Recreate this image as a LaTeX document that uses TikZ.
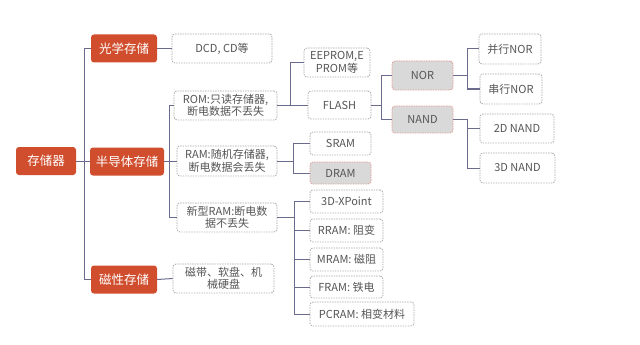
\documentclass[tikz,border=0pt]{standalone}
\usepackage{fontspec}
\setmainfont{Noto Sans CJK SC}
\definecolor{orng}{HTML}{D04E2E}
\definecolor{lnk}{HTML}{6B6B8E}
\definecolor{txt}{HTML}{555555}
\definecolor{bdr}{HTML}{A8A8A8}
\definecolor{gfill}{HTML}{D9D9D9}
\definecolor{rbdr}{HTML}{E29A92}
\begin{document}
\begin{tikzpicture}[x=1pt,y=-1pt,
  main/.style={fill=orng,text=white,rounded corners=3pt,inner sep=0pt,font=\fontsize{12.5}{14}\selectfont,minimum height=28pt},
  leaf/.style={draw=bdr,dash pattern=on 1.4pt off 1.1pt,line width=0.8pt,rounded corners=3pt,inner sep=0pt,text=txt,align=center,font=\fontsize{11}{12.5}\selectfont,fill=white},
  gleaf/.style={leaf,fill=gfill,draw=rbdr},
  con/.style={draw=lnk,line width=1pt}]
\useasboundingbox (0,0) rectangle (640,345);
% level 1
\node[main,minimum width=60pt] (root) at (46,161) {存储器};
\node[main,minimum width=66pt] (opt) at (124,48.5) {光学存储};
\node[main,minimum width=74pt] (semi) at (127,161.5) {半导体存储};
\node[main,minimum width=66pt] (mag) at (124,279.5) {磁性存储};
% level 2
\node[leaf,minimum width=100pt,minimum height=29pt] (dcd) at (222,48.5) {DCD, CD等};
\node[leaf,minimum width=103pt,minimum height=29pt] (rom) at (225.5,105.5) {ROM:只读存储器,\\断电数据不丢失};
\node[leaf,minimum width=100pt,minimum height=30pt] (ram) at (227,161) {RAM:随机存储器,\\断电数据会丢失};
\node[leaf,minimum width=100pt,minimum height=29pt] (nram) at (227,217.5) {新型RAM:断电数\\据不丢失};
\node[leaf,minimum width=101pt,minimum height=29pt] (tape) at (223.5,278.5) {磁带、软盘、机\\械硬盘};
% level 3
\node[leaf,minimum width=66pt,minimum height=29pt] (eep) at (337,62.5) {EEPROM,E\\PROM等};
\node[leaf,minimum width=63pt,minimum height=28pt] (flash) at (339.5,105) {FLASH};
\node[leaf,minimum width=61pt,minimum height=23pt] (sram) at (340.5,143.5) {SRAM};
\node[gleaf,minimum width=61pt,minimum height=22pt] (dram) at (340.5,173) {DRAM};
\node[leaf,minimum width=73pt,minimum height=23pt] (xp) at (346.5,201.5) {3D-XPoint};
\node[leaf,minimum width=73pt,minimum height=23pt] (rr) at (346.5,230.5) {RRAM: 阻变};
\node[leaf,minimum width=73pt,minimum height=23pt] (mr) at (346.5,259.5) {MRAM: 磁阻};
\node[leaf,minimum width=73pt,minimum height=22pt] (fr) at (346.5,287) {FRAM: 铁电};
\node[leaf,minimum width=104pt,minimum height=24pt] (pc) at (362,314) {PCRAM: 相变材料};
% level 4
\node[gleaf,minimum width=61pt,minimum height=29pt] (nor) at (422.5,75.5) {NOR};
\node[gleaf,minimum width=61pt,minimum height=27pt] (nand) at (422.5,119.5) {NAND};
% level 5
\node[leaf,minimum width=62pt,minimum height=30pt] (pnor) at (510,49) {并行NOR};
\node[leaf,minimum width=62pt,minimum height=30pt] (snor) at (511,89) {串行NOR};
\node[leaf,minimum width=74pt,minimum height=29pt] (n2) at (517,128.5) {2D NAND};
\node[leaf,minimum width=75pt,minimum height=30pt] (n3) at (517.5,168) {3D NAND};
% connectors
\path[con] (root.east) -- ++(8,0) |- (opt.west);
\path[con] (root.east) -- ++(8,0) |- (semi.west);
\path[con] (root.east) -- ++(8,0) |- (mag.west);
\path[con] (opt.east) -- (dcd.west);
\path[con] (mag.east) -- (tape.west);
\path[con] (semi.east) -- ++(5,0) |- (rom.west);
\path[con] (semi.east) -- ++(5,0) |- (ram.west);
\path[con] (semi.east) -- ++(5,0) |- (nram.west);
\path[con] (rom.east) -- ++(13,0) |- (eep.west);
\path[con] (rom.east) -- ++(13,0) |- (flash.west);
\path[con] (ram.east) -- ++(16,0) |- (sram.west);
\path[con] (ram.east) -- ++(16,0) |- (dram.west);
\path[con] (nram.east) -- ++(17,0) |- (xp.west);
\path[con] (nram.east) -- ++(17,0) |- (rr.west);
\path[con] (nram.east) -- ++(17,0) |- (mr.west);
\path[con] (nram.east) -- ++(17,0) |- (fr.west);
\path[con] (nram.east) -- ++(17,0) |- (pc.west);
\path[con] (flash.east) -- ++(10,0) |- (nor.west);
\path[con] (flash.east) -- ++(10,0) |- (nand.west);
\path[con] (nor.east) -- ++(14,0) |- (pnor.west);
\path[con] (nor.east) -- ++(14,0) |- (snor.west);
\path[con] (nand.east) -- ++(14,0) |- (n2.west);
\path[con] (nand.east) -- ++(14,0) |- (n3.west);
\end{tikzpicture}
\end{document}
